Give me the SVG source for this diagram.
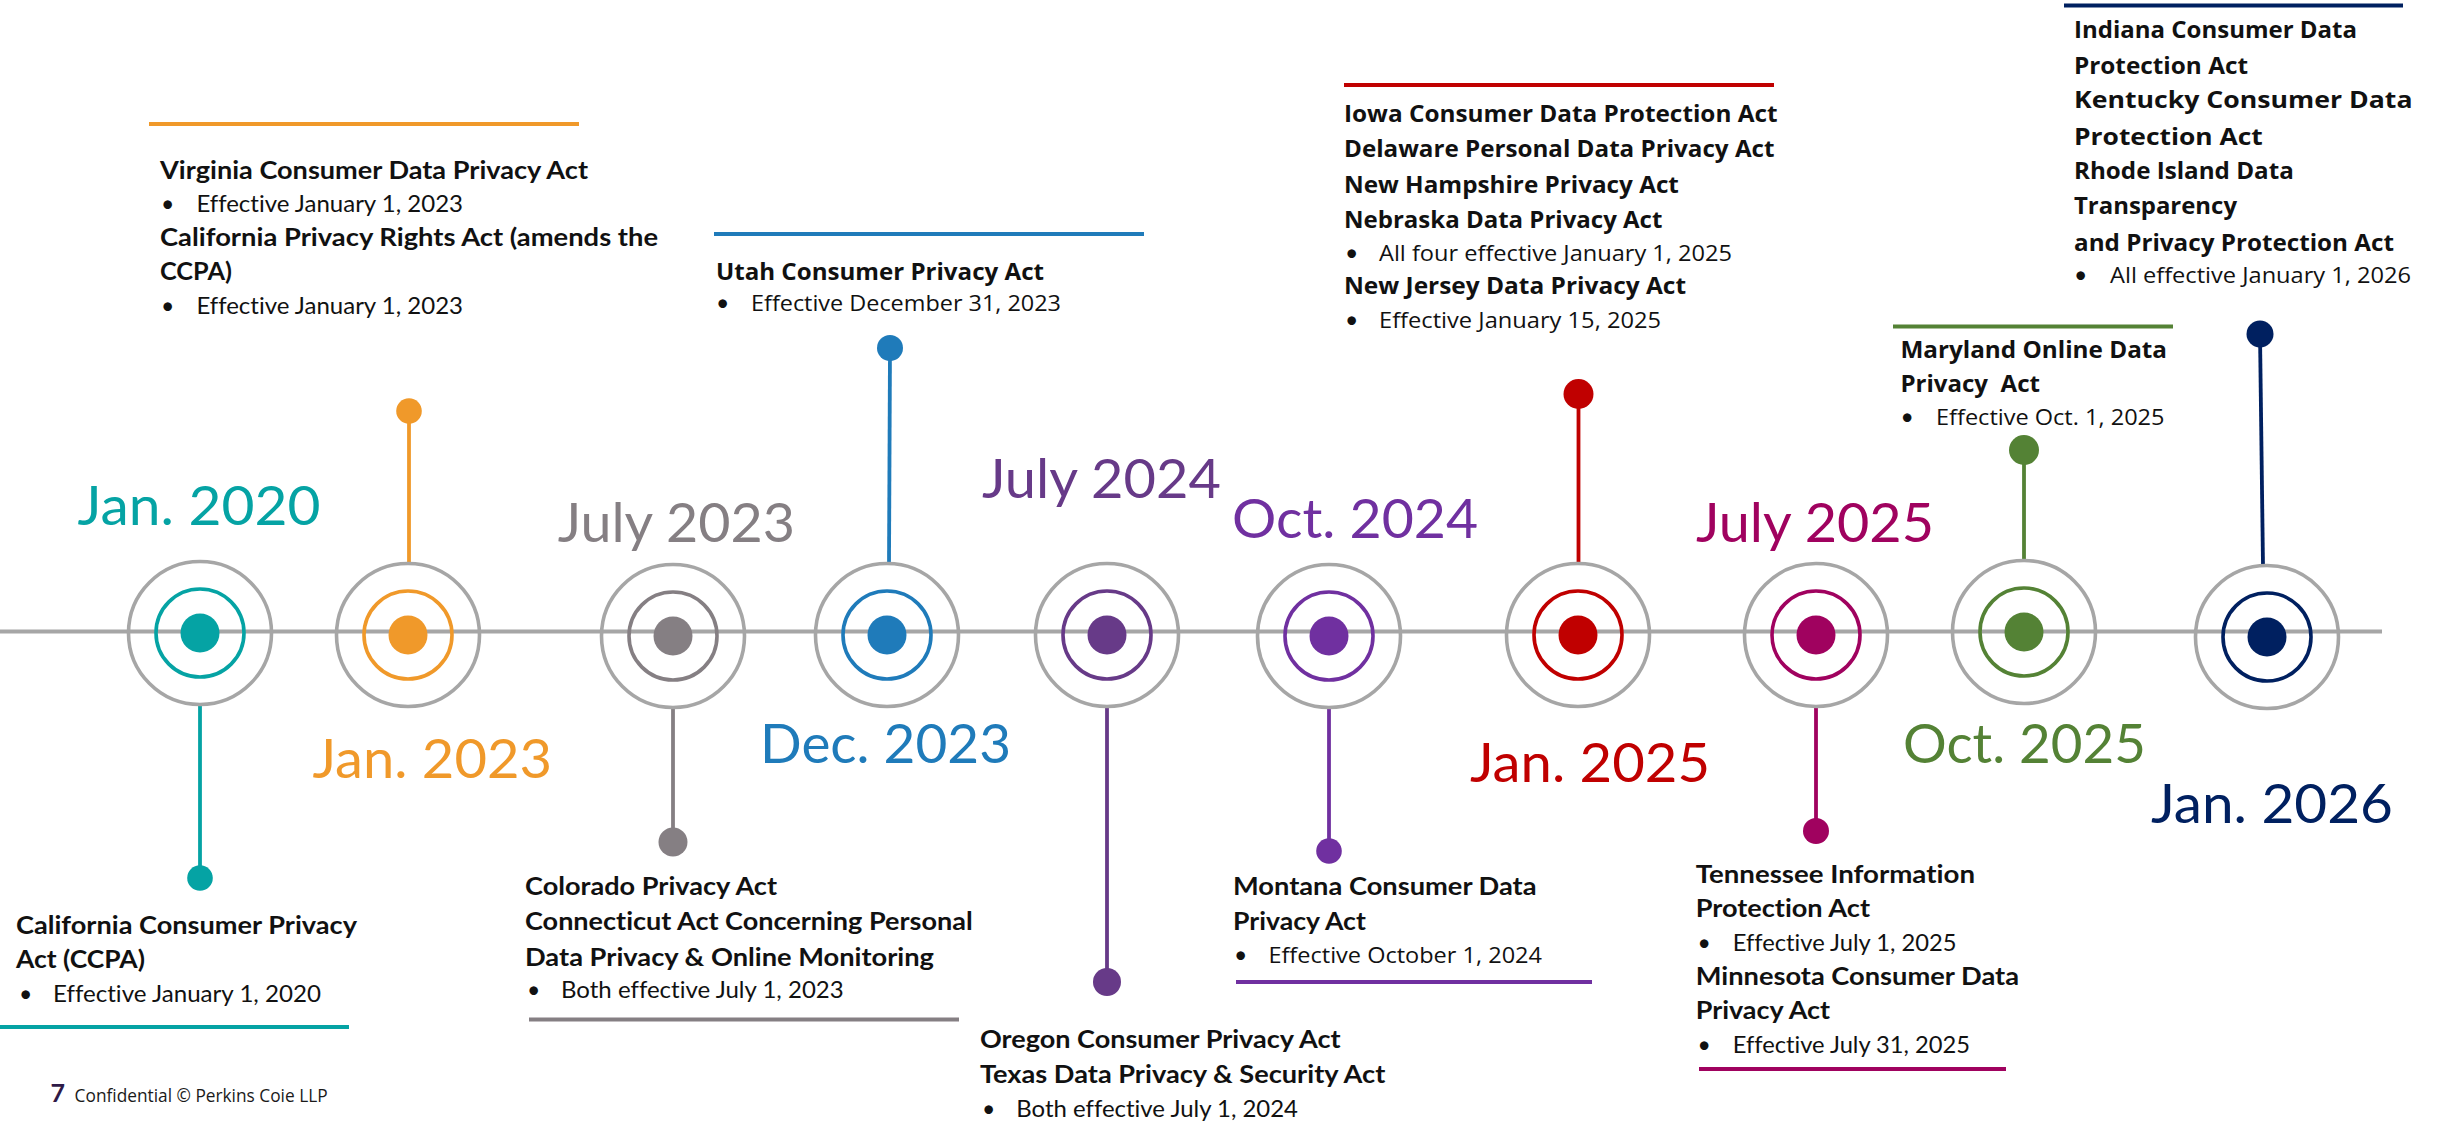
<svg xmlns="http://www.w3.org/2000/svg" width="2443" height="1122" viewBox="0 0 2443 1122">
<style>
  text{font-variant-ligatures:none}
  .outer{fill:none;stroke:#A6A6A6;stroke-width:3.6}
  .ring{fill:none;stroke-width:3.6}
  .stem{stroke-width:3.8;fill:none}
  .uline{stroke-width:4}
  .date{font-family:Lato,"Liberation Sans",sans-serif;font-size:55px}
  .hb{font-family:Lato,"Liberation Sans",sans-serif;font-size:25px;font-weight:bold;fill:#111}
  .hr{font-family:Lato,"Liberation Sans",sans-serif;font-size:23px;fill:#111}
  .sb{font-family:"Open Sans","Noto Sans",sans-serif;font-size:24px;font-weight:bold;fill:#111}
  .sr{font-family:"Open Sans","Noto Sans",sans-serif;font-size:21.5px;fill:#111}
  .pre{white-space:pre}
</style>
<rect width="2443" height="1122" fill="#fff"/>

<g id="connectors">
  <line x1="0" y1="631.5" x2="2382" y2="631.5" stroke="#A6A6A6" stroke-width="3.8"/>
  <line class="stem" x1="200" y1="706" x2="200" y2="878" stroke="#05A3A4"/>
  <line class="stem" x1="409" y1="411" x2="409" y2="563" stroke="#F0992A"/>
  <line class="stem" x1="673" y1="709" x2="673" y2="842" stroke="#857F83"/>
  <line class="stem" x1="890" y1="348" x2="889" y2="564" stroke="#1F7BBA"/>
  <line class="stem" x1="1107" y1="707" x2="1107" y2="982" stroke="#673A88"/>
  <line class="stem" x1="1329" y1="708" x2="1329" y2="851" stroke="#7030A0"/>
  <line class="stem" x1="1578.5" y1="394" x2="1578.5" y2="564" stroke="#C00000"/>
  <line class="stem" x1="1816" y1="707" x2="1816" y2="831" stroke="#A0025F"/>
  <line class="stem" x1="2024" y1="450" x2="2024" y2="561" stroke="#548235"/>
  <line class="stem" x1="2260" y1="334" x2="2263" y2="566" stroke="#002060"/>
</g>

<g id="node-jan2020">
  <circle class="outer" cx="200" cy="633" r="71.5"/>
  <circle class="ring" cx="200" cy="633" r="44" stroke="#05A3A4"/>
  <circle cx="200" cy="633" r="19.5" fill="#05A3A4"/>
  <circle cx="200" cy="878" r="12.8" fill="#05A3A4"/>
  <text class="date" x="77.6" y="525" fill="#05A3A4" textLength="242.8" lengthAdjust="spacingAndGlyphs">Jan. 2020</text>
  <text class="hb" x="16" y="934" textLength="341" lengthAdjust="spacingAndGlyphs">California Consumer Privacy</text>
  <text class="hb" x="16" y="968" textLength="129" lengthAdjust="spacingAndGlyphs">Act (CCPA)</text>
  <text class="hr" x="19" y="1002">•</text>
  <text class="hr" x="53" y="1002" textLength="268" lengthAdjust="spacingAndGlyphs">Effective January 1, 2020</text>
  <line class="uline" x1="0" y1="1027" x2="349" y2="1027" stroke="#05A3A4"/>
</g>

<g id="node-jan2023">
  <circle class="outer" cx="408" cy="635" r="71.5"/>
  <circle class="ring" cx="408" cy="635" r="44" stroke="#F0992A"/>
  <circle cx="408" cy="635" r="19.5" fill="#F0992A"/>
  <circle cx="409" cy="411" r="12.8" fill="#F0992A"/>
  <text class="date" x="312.5" y="778" fill="#F0992A" textLength="239.5" lengthAdjust="spacingAndGlyphs">Jan. 2023</text>
  <line class="uline" x1="149" y1="124" x2="579" y2="124" stroke="#F0992A"/>
  <text class="hb" x="160" y="178.6" textLength="428" lengthAdjust="spacingAndGlyphs">Virginia Consumer Data Privacy Act</text>
  <text class="hr" x="161" y="211.8">•</text>
  <text class="hr" x="196.4" y="211.8" textLength="266.6" lengthAdjust="spacingAndGlyphs">Effective January 1, 2023</text>
  <text class="hb" x="160" y="246.4" textLength="498" lengthAdjust="spacingAndGlyphs">California Privacy Rights Act (amends the</text>
  <text class="hb" x="160" y="280.4" textLength="72" lengthAdjust="spacingAndGlyphs">CCPA)</text>
  <text class="hr" x="161" y="313.6">•</text>
  <text class="hr" x="196.4" y="313.6" textLength="266.6" lengthAdjust="spacingAndGlyphs">Effective January 1, 2023</text>
</g>

<g id="node-jul2023">
  <circle class="outer" cx="673" cy="636" r="71.5"/>
  <circle class="ring" cx="673" cy="636" r="44" stroke="#857F83"/>
  <circle cx="673" cy="636" r="19.5" fill="#857F83"/>
  <circle cx="673" cy="842" r="14.5" fill="#857F83"/>
  <text class="date" x="557.7" y="541.8" fill="#857F83" textLength="237.3" lengthAdjust="spacingAndGlyphs">July 2023</text>
  <text class="hb" x="525" y="895" textLength="252" lengthAdjust="spacingAndGlyphs">Colorado Privacy Act</text>
  <text class="hb" x="525" y="930" textLength="447.6" lengthAdjust="spacingAndGlyphs">Connecticut Act Concerning Personal</text>
  <text class="hb" x="525" y="965.7" textLength="409" lengthAdjust="spacingAndGlyphs">Data Privacy &amp; Online Monitoring</text>
  <text class="hr" x="527" y="998">•</text>
  <text class="hr" x="561" y="998" textLength="282.7" lengthAdjust="spacingAndGlyphs">Both effective July 1, 2023</text>
  <line class="uline" x1="529" y1="1019.5" x2="959" y2="1019.5" stroke="#857F83"/>
</g>

<g id="node-dec2023">
  <circle class="outer" cx="887" cy="635" r="71.5"/>
  <circle class="ring" cx="887" cy="635" r="44" stroke="#1F7BBA"/>
  <circle cx="887" cy="635" r="19.5" fill="#1F7BBA"/>
  <circle cx="890" cy="348" r="13" fill="#1F7BBA"/>
  <text class="date" x="760" y="762.5" fill="#1F7BBA" textLength="251" lengthAdjust="spacingAndGlyphs">Dec. 2023</text>
  <line class="uline" x1="714" y1="234" x2="1144" y2="234" stroke="#1F7BBA"/>
  <text class="sb" x="716" y="279.5" textLength="328" lengthAdjust="spacingAndGlyphs">Utah Consumer Privacy Act</text>
  <text class="hr" x="716" y="311">•</text>
  <text class="sr" x="751" y="311" textLength="310" lengthAdjust="spacingAndGlyphs">Effective December 31, 2023</text>
</g>

<g id="node-jul2024">
  <circle class="outer" cx="1107" cy="635" r="71.5"/>
  <circle class="ring" cx="1107" cy="635" r="44" stroke="#673A88"/>
  <circle cx="1107" cy="635" r="19.5" fill="#673A88"/>
  <circle cx="1107" cy="982" r="14" fill="#673A88"/>
  <text class="date" x="982" y="497.6" fill="#673A88" textLength="239" lengthAdjust="spacingAndGlyphs">July 2024</text>
  <text class="hb" x="980" y="1048" textLength="360.5" lengthAdjust="spacingAndGlyphs">Oregon Consumer Privacy Act</text>
  <text class="hb" x="980" y="1082.6" textLength="405.3" lengthAdjust="spacingAndGlyphs">Texas Data Privacy &amp; Security Act</text>
  <text class="hr" x="982" y="1116.6">•</text>
  <text class="hr" x="1016.3" y="1116.6" textLength="281.7" lengthAdjust="spacingAndGlyphs">Both effective July 1, 2024</text>
</g>

<g id="node-oct2024">
  <circle class="outer" cx="1329" cy="636" r="71.5"/>
  <circle class="ring" cx="1329" cy="636" r="44" stroke="#7030A0"/>
  <circle cx="1329" cy="636" r="19.5" fill="#7030A0"/>
  <circle cx="1329" cy="851" r="12.8" fill="#7030A0"/>
  <text class="date" x="1232" y="538" fill="#7030A0" textLength="246" lengthAdjust="spacingAndGlyphs">Oct. 2024</text>
  <text class="hb" x="1233" y="895" textLength="303.6" lengthAdjust="spacingAndGlyphs">Montana Consumer Data</text>
  <text class="hb" x="1233" y="930" textLength="132.8" lengthAdjust="spacingAndGlyphs">Privacy Act</text>
  <text class="hr" x="1234" y="963">•</text>
  <text class="sr" x="1268.4" y="963" textLength="273.6" lengthAdjust="spacingAndGlyphs">Effective October 1, 2024</text>
  <line class="uline" x1="1236" y1="982" x2="1592" y2="982" stroke="#7030A0"/>
</g>

<g id="node-jan2025">
  <circle class="outer" cx="1578" cy="635" r="71.5"/>
  <circle class="ring" cx="1578" cy="635" r="44" stroke="#C00000"/>
  <circle cx="1578" cy="635" r="19.5" fill="#C00000"/>
  <circle cx="1578.5" cy="394" r="15" fill="#C00000"/>
  <text class="date" x="1470" y="782" fill="#C00000" textLength="240" lengthAdjust="spacingAndGlyphs">Jan. 2025</text>
  <line class="uline" x1="1344" y1="85" x2="1774" y2="85" stroke="#C00000"/>
  <text class="sb" x="1344" y="122" textLength="433.6" lengthAdjust="spacingAndGlyphs">Iowa Consumer Data Protection Act</text>
  <text class="sb" x="1344" y="157" textLength="430.5" lengthAdjust="spacingAndGlyphs">Delaware Personal Data Privacy Act</text>
  <text class="sb" x="1344" y="192.7" textLength="334.9" lengthAdjust="spacingAndGlyphs">New Hampshire Privacy Act</text>
  <text class="sb" x="1344" y="228" textLength="318.4" lengthAdjust="spacingAndGlyphs">Nebraska Data Privacy Act</text>
  <text class="hr" x="1345" y="260.5">•</text>
  <text class="sr" x="1379" y="260.5" textLength="353" lengthAdjust="spacingAndGlyphs">All four effective January 1, 2025</text>
  <text class="sb" x="1344" y="293.8" textLength="342" lengthAdjust="spacingAndGlyphs">New Jersey Data Privacy Act</text>
  <text class="hr" x="1345" y="327.5">•</text>
  <text class="sr" x="1379" y="327.5" textLength="282" lengthAdjust="spacingAndGlyphs">Effective January 15, 2025</text>
</g>

<g id="node-jul2025">
  <circle class="outer" cx="1816" cy="635" r="71.5"/>
  <circle class="ring" cx="1816" cy="635" r="44" stroke="#A0025F"/>
  <circle cx="1816" cy="635" r="19.5" fill="#A0025F"/>
  <circle cx="1816" cy="831" r="13" fill="#A0025F"/>
  <text class="date" x="1696" y="541.8" fill="#A0025F" textLength="238" lengthAdjust="spacingAndGlyphs">July 2025</text>
  <text class="hb" x="1695.7" y="882.6" textLength="279.3" lengthAdjust="spacingAndGlyphs">Tennessee Information</text>
  <text class="hb" x="1695.7" y="917.3" textLength="174.3" lengthAdjust="spacingAndGlyphs">Protection Act</text>
  <text class="hr" x="1697.5" y="950.7">•</text>
  <text class="hr" x="1732.8" y="950.7" textLength="223.7" lengthAdjust="spacingAndGlyphs">Effective July 1, 2025</text>
  <text class="hb" x="1695.7" y="984.7" textLength="323.3" lengthAdjust="spacingAndGlyphs">Minnesota Consumer Data</text>
  <text class="hb" x="1695.7" y="1018.8" textLength="134.3" lengthAdjust="spacingAndGlyphs">Privacy Act</text>
  <text class="hr" x="1697.5" y="1052.8">•</text>
  <text class="hr" x="1732.8" y="1052.8" textLength="237.2" lengthAdjust="spacingAndGlyphs">Effective July 31, 2025</text>
  <line class="uline" x1="1699" y1="1069" x2="2006" y2="1069" stroke="#A0025F"/>
</g>

<g id="node-oct2025">
  <circle class="outer" cx="2024" cy="632" r="71.5"/>
  <circle class="ring" cx="2024" cy="632" r="44" stroke="#548235"/>
  <circle cx="2024" cy="632" r="19.5" fill="#548235"/>
  <circle cx="2024" cy="450" r="15" fill="#548235"/>
  <text class="date" x="1903" y="762.5" fill="#548235" textLength="243" lengthAdjust="spacingAndGlyphs">Oct. 2025</text>
  <line class="uline" x1="1893" y1="326.5" x2="2173" y2="326.5" stroke="#548235"/>
  <text class="sb" x="1900.4" y="357.8" textLength="266.6" lengthAdjust="spacingAndGlyphs">Maryland Online Data</text>
  <text class="sb pre" x="1900.4" y="392.3" textLength="139.6" lengthAdjust="spacingAndGlyphs">Privacy  Act</text>
  <text class="hr" x="1900.5" y="424.8">•</text>
  <text class="sr" x="1936" y="424.8" textLength="228.5" lengthAdjust="spacingAndGlyphs">Effective Oct. 1, 2025</text>
</g>

<g id="node-jan2026">
  <circle class="outer" cx="2267" cy="637" r="71.5"/>
  <circle class="ring" cx="2267" cy="637" r="44" stroke="#002060"/>
  <circle cx="2267" cy="637" r="19.5" fill="#002060"/>
  <circle cx="2260" cy="334" r="13.5" fill="#002060"/>
  <text class="date" x="2151" y="823.4" fill="#002060" textLength="242" lengthAdjust="spacingAndGlyphs">Jan. 2026</text>
  <line class="uline" x1="2064" y1="5.5" x2="2403" y2="5.5" stroke="#002060"/>
  <text class="sb" x="2074" y="38.3" textLength="283" lengthAdjust="spacingAndGlyphs">Indiana Consumer Data</text>
  <text class="sb" x="2074" y="73.9" textLength="174" lengthAdjust="spacingAndGlyphs">Protection Act</text>
  <text class="sb" x="2074" y="108.3" textLength="338.5" lengthAdjust="spacingAndGlyphs">Kentucky Consumer Data</text>
  <text class="sb" x="2074" y="144.7" textLength="188.8" lengthAdjust="spacingAndGlyphs">Protection Act</text>
  <text class="sb" x="2074" y="179" textLength="219.8" lengthAdjust="spacingAndGlyphs">Rhode Island Data</text>
  <text class="sb" x="2074" y="214.3" textLength="163" lengthAdjust="spacingAndGlyphs">Transparency</text>
  <text class="sb" x="2074" y="250.7" textLength="320" lengthAdjust="spacingAndGlyphs">and Privacy Protection Act</text>
  <text class="hr" x="2074" y="283.2">•</text>
  <text class="sr" x="2110" y="283.2" textLength="301" lengthAdjust="spacingAndGlyphs">All effective January 1, 2026</text>
</g>

<g id="footer">
  <text x="50.5" y="1102" font-family="Lato,'Liberation Sans',sans-serif" font-size="25" font-weight="bold" fill="#2E1A47">7</text>
  <text x="74.6" y="1102" font-family="'Open Sans','Noto Sans',sans-serif" font-size="17.5" fill="#1a1a1a" textLength="253" lengthAdjust="spacingAndGlyphs">Confidential © Perkins Coie LLP</text>
</g>
</svg>
